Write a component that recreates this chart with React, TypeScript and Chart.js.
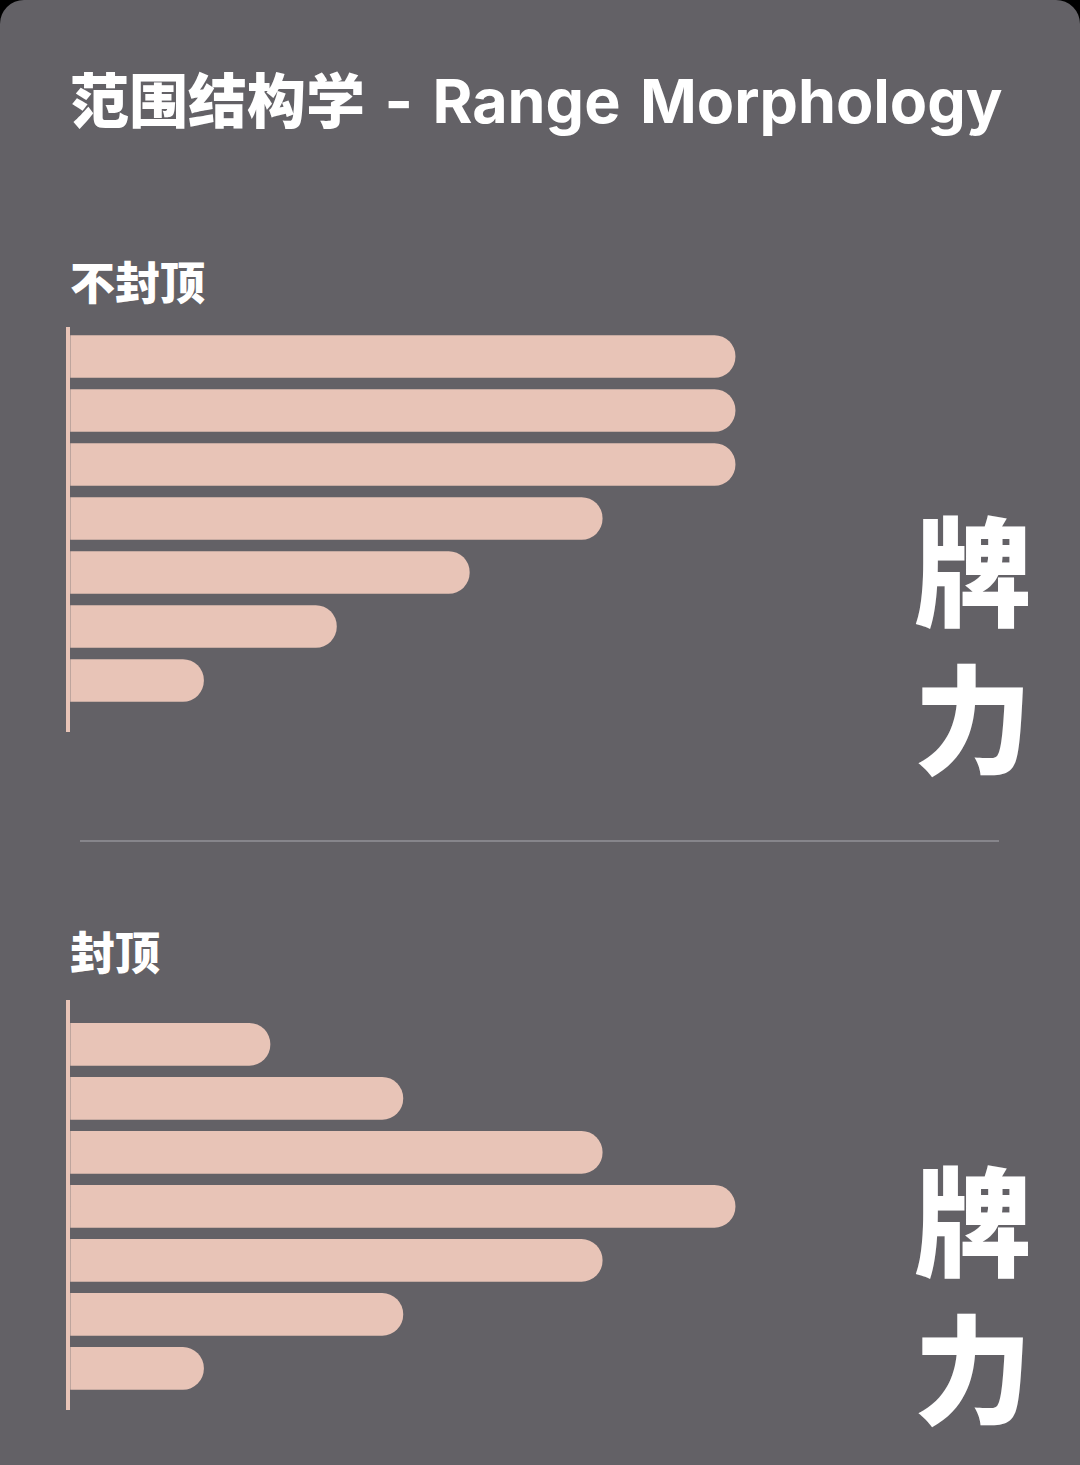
import { useEffect, useRef } from 'react';
import { Chart, registerables } from 'chart.js';

Chart.register(...registerables);

// rows of the range, strongest at the top
const rankRows = [0, 1, 2, 3, 4, 5, 6];
const uncappedValues = [5, 5, 5, 4, 3, 2, 1];
const cappedValues = [1.5, 2.5, 4, 5, 4, 2.5, 1];

const TITLE_CN = '范围结构学';
const TITLE_EN = ' - Range Morphology';
const UNCAPPED_LABEL = '不封顶';
const CAPPED_LABEL = '封顶';
const SIDE_LABEL = ['牌', '力'];

const BG = '#636166';
const BAR = '#e8c4b7';
const CJK = '"Noto Sans CJK SC", "Noto Sans", sans-serif';
const LATIN = 'Inter, "Noto Sans CJK SC", sans-serif';

type RangeBarsProps = {
  values: number[];
  yMin: number;
  yMax: number;
};

function RangeBars({ values, yMin, yMax }: RangeBarsProps) {
  const chartRef = useRef<HTMLCanvasElement>(null);
  const chartInstance = useRef<Chart | null>(null);

  useEffect(() => {
    if (!chartRef.current) return;
    const ctx = chartRef.current.getContext('2d');
    if (!ctx) return;

    chartInstance.current = new Chart(ctx, {
      type: 'bar',
      data: {
        datasets: [
          {
            data: rankRows.map((row, i) => ({ x: values[i], y: row })),
            backgroundColor: BAR,
            borderWidth: 0,
            borderRadius: 21,
            barThickness: 42,
          },
        ],
      },
      options: {
        indexAxis: 'y',
        animation: false,
        responsive: true,
        maintainAspectRatio: false,
        layout: { padding: { left: 10, top: 0, bottom: 0, right: 0 } },
        scales: {
          x: {
            type: 'linear',
            display: false,
            min: -0.02,
            max: 6,
          },
          y: {
            type: 'linear',
            reverse: true,
            offset: false,
            min: yMin,
            max: yMax,
            ticks: { display: false },
            grid: { display: false, drawTicks: false, offset: false },
            border: { display: true, color: BAR, width: 4 },
            afterFit: (scale) => {
              scale.width = 0;
            },
          },
        },
        plugins: {
          legend: { display: false },
          tooltip: { enabled: false },
        },
      },
    });

    return () => {
      if (chartInstance.current) {
        chartInstance.current.destroy();
      }
    };
  }, [values, yMin, yMax]);

  return <canvas ref={chartRef} />;
}

function SideLabel({ top }: { top: number }) {
  return (
    <div
      style={{
        position: 'absolute',
        right: 48,
        top,
        fontFamily: CJK,
        fontWeight: 900,
        fontSize: 118,
        lineHeight: '148px',
        color: '#fff',
        textAlign: 'right',
      }}
    >
      {SIDE_LABEL.map((ch) => (
        <div key={ch}>{ch}</div>
      ))}
    </div>
  );
}

export default function App() {
  useEffect(() => {
    document.body.style.margin = '0';
    document.body.style.background = '#000';
  }, []);

  const sectionLabel = {
    position: 'absolute' as const,
    left: 70,
    fontFamily: CJK,
    fontWeight: 900,
    fontSize: 45,
    lineHeight: 1,
    color: '#fff',
  };

  return (
    <div
      style={{
        position: 'relative',
        width: 1080,
        height: 1465,
        background: BG,
        borderRadius: '24px 24px 0 0',
        overflow: 'hidden',
      }}
    >
      <div
        style={{
          position: 'absolute',
          left: 70,
          top: 68,
          fontSize: 61,
          lineHeight: 1,
          color: '#fff',
          whiteSpace: 'nowrap',
        }}
      >
        <span style={{ fontFamily: CJK, fontWeight: 900, fontSize: 59 }}>{TITLE_CN}</span>
        <span style={{ fontFamily: LATIN, fontWeight: 700, wordSpacing: 5 }}>{TITLE_EN}</span>
      </div>

      <div style={{ ...sectionLabel, top: 258 }}>{UNCAPPED_LABEL}</div>
      <div style={{ position: 'absolute', left: 58, top: 327, width: 810, height: 405 }}>
        <RangeBars values={uncappedValues} yMin={-0.546} yMax={6.954} />
      </div>
      <SideLabel top={492} />

      <div
        style={{
          position: 'absolute',
          left: 80,
          top: 840,
          width: 919,
          height: 2,
          background: '#86858b',
        }}
      />

      <div style={{ ...sectionLabel, top: 928 }}>{CAPPED_LABEL}</div>
      <div style={{ position: 'absolute', left: 58, top: 1000, width: 810, height: 410 }}>
        <RangeBars values={cappedValues} yMin={-0.82} yMax={6.77} />
      </div>
      <SideLabel top={1142} />
    </div>
  );
}
